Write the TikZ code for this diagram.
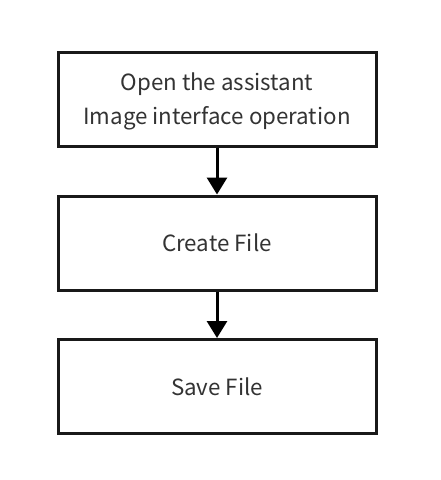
\documentclass[tikz,border=0pt]{standalone}
\usepackage{fontspec}
\setmainfont{Noto Sans CJK SC}
\usetikzlibrary{arrows.meta}
\begin{document}
\begin{tikzpicture}[x=1pt,y=-1pt,
  box/.style={draw=black!90,line width=3pt,minimum width=318pt,minimum height=94pt,inner sep=0pt,
    text=black!80,font=\fontsize{22.3}{34}\selectfont,align=center},
  conn/.style={line width=3pt,-{Triangle[width=20pt,length=17pt]}}]
\useasboundingbox (0,0) rectangle (441,480);
\node[box,text depth=0pt] (a) at (217,99) {Open the assistant\\Image interface operation};
\node[box] (b) at (217,243) {Create File};
\node[box] (c) at (217,386.5) {Save File};
\draw[conn] (a.south) -- (b.north);
\draw[conn] (b.south) -- (c.north);
\end{tikzpicture}
\end{document}
